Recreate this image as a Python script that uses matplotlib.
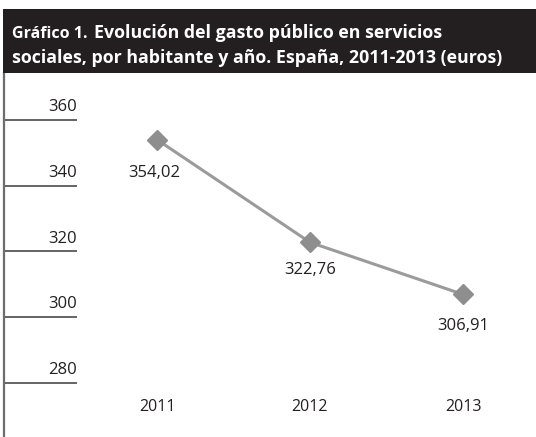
import matplotlib
matplotlib.use("Agg")
import matplotlib.pyplot as plt
from matplotlib.patches import Rectangle

# Data
years = ["2011", "2012", "2013"]
gasto = [354.02, 322.76, 306.91]
value_labels = ["354,02", "322,76", "306,91"]
y_ticks = [280, 300, 320, 340, 360]

W, H = 536, 437
fig = plt.figure(figsize=(W / 100, H / 100), dpi=100)
fig.patch.set_facecolor("white")

FONT = ["Open Sans", "DejaVu Sans"]

# Header band
fig.patches.append(Rectangle((3 / W, (H - 73) / H), 1, 64 / H,
                             transform=fig.transFigure, facecolor="#231f20",
                             edgecolor="none", zorder=0))
fig.text(12 / W, (H - 38) / H, "Gráfico 1.", color="white", fontsize=11.5,
         fontweight="bold", family=FONT, va="baseline", ha="left")
fig.text(94 / W, (H - 38) / H, "Evolución del gasto público en servicios",
         color="white", fontsize=12.8, fontweight="bold", family=FONT,
         va="baseline", ha="left")
fig.text(12 / W, (H - 63) / H,
         "sociales, por habitante y año. España, 2011-2013 (euros)",
         color="white", fontsize=12.8, fontweight="bold", family=FONT,
         va="baseline", ha="left")

# Plot area
ax = fig.add_axes([4 / W, 0, (W - 4) / W, (H - 73) / H])
x = list(range(len(years)))
px_per_unit = 65.7 / 20
ax.set_ylim(360 - (437 - 120) / px_per_unit, 360 + (120 - 73) / px_per_unit)
ax.set_xlim(-(157 - 4) / 153, (W - 157) / 153)

for s in ["top", "right", "bottom"]:
    ax.spines[s].set_visible(False)
ax.spines["left"].set_color("#6d6d6d")
ax.spines["left"].set_linewidth(1.6)
ax.set_xticks([])
ax.set_yticks([])

# Gridline stubs with labels
xfrac = (77 - 4) / (W - 4)
ax.hlines(y_ticks, 0, xfrac, transform=ax.get_yaxis_transform(),
          color="#4a4a4a", lw=1.2)
for t in y_ticks:
    ax.annotate(str(t), (xfrac, t), xycoords=ax.get_yaxis_transform(),
                xytext=(0, 3.5), textcoords="offset points", ha="right",
                va="bottom", fontsize=12, color="#231f20", family=FONT)

# Series
ax.plot(x, gasto, color="#9b9b9b", lw=2.2, marker="D", ms=10,
        markerfacecolor="#8e8e8f", markeredgecolor="#8e8e8f", zorder=3,
        clip_on=False)

offsets = [(-2, -24), (0, -20), (0, -23)]
for xi, v, lab, off in zip(x, gasto, value_labels, offsets):
    ax.annotate(lab, (xi, v), xytext=off, textcoords="offset points",
                ha="center", va="center", fontsize=12, color="#231f20",
                family=FONT)

# Category labels
for xi, yr in zip(x, years):
    ax.text(xi, (437 - 407) / (H - 73), yr, transform=ax.get_xaxis_transform(),
            ha="center", va="center", fontsize=11.5, color="#231f20",
            family=FONT)

fig.savefig("out.png", dpi=100)
